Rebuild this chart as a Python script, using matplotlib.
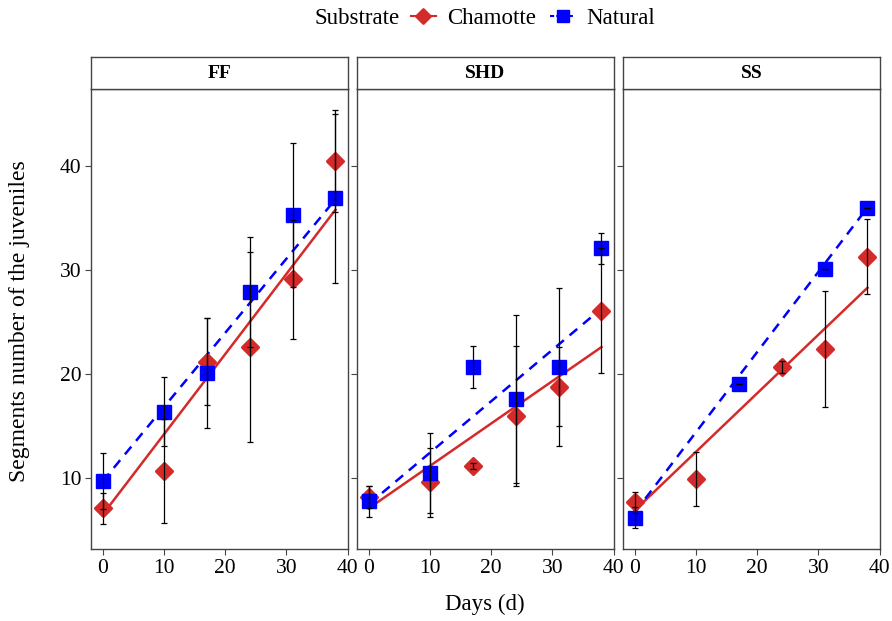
import matplotlib
matplotlib.use("Agg")
import matplotlib.pyplot as plt
from matplotlib.lines import Line2D
from matplotlib.markers import MarkerStyle
from matplotlib.offsetbox import HPacker
import numpy as np

plt.rcParams['font.family'] = ['Liberation Serif', 'DejaVu Serif']

# sampling days
days = [0, 10, 17, 24, 31, 38]
fit_days = [0, 38]
panels = ["FF", "SHD", "SS"]

# mean segments number (nan = not shown)
ff_chamotte = [7.1, 10.7, 21.2, 22.6, 29.1, 40.5]
ff_chamotte_err = [1.5, 5.0, 4.2, 9.1, 5.7, 4.9]
ff_natural = [9.7, 16.4, 20.1, 27.9, 35.3, 36.9]
ff_natural_err = [2.7, 3.3, 5.3, 5.3, 6.9, 8.1]

shd_chamotte = [8.2, 9.6, 11.2, 16.0, 18.8, 26.1]
shd_chamotte_err = [1.1, 3.3, 0.3, 6.7, 3.8, 6.0]
shd_natural = [7.8, 10.5, 20.7, 17.6, 20.7, 32.1]
shd_natural_err = [1.5, 3.8, 2.0, 8.1, 7.6, 1.5]

ss_chamotte = [7.7, 9.9, np.nan, 20.7, 22.4, 31.3]
ss_chamotte_err = [1.0, 2.6, 0, 0.6, 5.6, 3.6]
ss_natural = [6.2, np.nan, 19.1, np.nan, 30.1, 36.0]
ss_natural_err = [1.0, 0, 0, 0, 0, 0]

# fitted trend lines (value at day 0 and day 38)
ff_chamotte_fit = [6.5, 35.8]
ff_natural_fit = [9.7, 36.8]
shd_chamotte_fit = [7.1, 22.6]
shd_natural_fit = [7.5, 26.3]
ss_chamotte_fit = [6.9, 28.3]
ss_natural_fit = [6.7, 36.0]

chamotte = [ff_chamotte, shd_chamotte, ss_chamotte]
chamotte_err = [ff_chamotte_err, shd_chamotte_err, ss_chamotte_err]
natural = [ff_natural, shd_natural, ss_natural]
natural_err = [ff_natural_err, shd_natural_err, ss_natural_err]
chamotte_fit = [ff_chamotte_fit, shd_chamotte_fit, ss_chamotte_fit]
natural_fit = [ff_natural_fit, shd_natural_fit, ss_natural_fit]

red = "#D42A2A"
blue = "#0000FF"
frame = "#444444"
diamond = MarkerStyle("D", joinstyle="round")

fig = plt.figure(figsize=(8.92, 6.21), dpi=100)
lefts = [91, 357, 623]
width = 257
top, bottom = 89, 549
strip_h = 32

for i, name in enumerate(panels):
    ax = fig.add_axes([lefts[i] / 892, 1 - bottom / 621, width / 892, (bottom - top) / 621])
    ax.plot(fit_days, chamotte_fit[i], color=red, lw=1.8, zorder=2)
    ax.plot(fit_days, natural_fit[i], color=blue, lw=1.8, ls=(0, (4, 3)), zorder=2)
    ax.plot(days, chamotte[i], ls="none", marker=diamond, ms=8, mew=2.2, color=red, mec=red, zorder=3)
    ax.plot(days, natural[i], ls="none", marker="s", ms=9.5, color=blue, mec=blue, zorder=3)
    ax.errorbar(days, chamotte[i], yerr=chamotte_err[i], fmt="none", ecolor="black",
                elinewidth=0.9, capsize=2, capthick=0.9, zorder=4)
    ax.errorbar(days, natural[i], yerr=natural_err[i], fmt="none", ecolor="black",
                elinewidth=0.9, capsize=2, capthick=0.9, zorder=4)

    ax.set_xlim(-1.9, 40.05)
    ax.set_ylim(3.2, 47.4)
    ax.set_xticks([0, 10, 20, 30, 40])
    ax.set_yticks([10, 20, 30, 40])
    ax.tick_params(length=4, width=0.8, color=frame, labelsize=15.5, pad=3)
    if i > 0:
        ax.tick_params(labelleft=False)
    for s in ax.spines.values():
        s.set_color(frame)
        s.set_linewidth(1.0)

    # facet strip
    sax = fig.add_axes([lefts[i] / 892, 1 - top / 621, width / 892, strip_h / 621])
    sax.set_xticks([])
    sax.set_yticks([])
    for s in sax.spines.values():
        s.set_color(frame)
        s.set_linewidth(1.0)
    sax.text(0.5, 0.5, name, ha="center", va="center", fontsize=14, fontweight="bold",
             transform=sax.transAxes)

fig.text(20 / 892, 1 - 321 / 621, "Segments number of the juveniles", rotation=90,
         ha="center", va="center", fontsize=17)
fig.text(485 / 892, 1 - 604 / 621, "Days (d)", ha="center", va="center", fontsize=16.5)

handles = [
    Line2D([], [], color=red, marker=diamond, ms=7, mew=2, lw=1.5),
    Line2D([], [], color=blue, marker="s", ms=8, lw=1.5, ls=(0, (2, 1))),
]
leg = fig.legend(handles, ["Chamotte", "Natural"], title="Substrate", loc="center",
                 bbox_to_anchor=(485 / 892, 1 - 18 / 621), ncol=2, frameon=False,
                 fontsize=16.5, title_fontsize=16.5, handlelength=1.1, handletextpad=0.5,
                 columnspacing=0.6)
# put the title on the same row as the entries, as ggplot does
box = leg._legend_box
box._children = [HPacker(children=[leg._legend_title_box] + list(box._children[1:]),
                         align="center", pad=0, sep=8)]

fig.savefig("out.png", dpi=100)
